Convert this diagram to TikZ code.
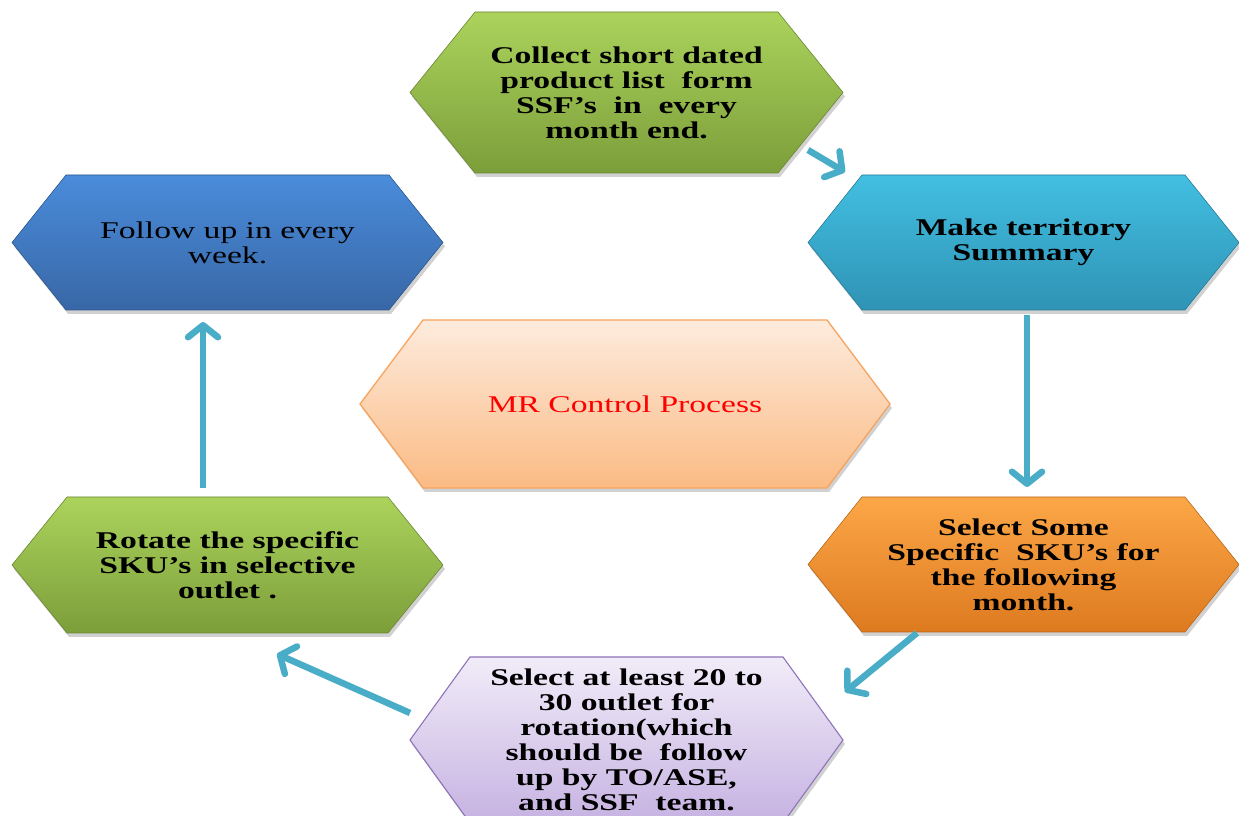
\documentclass[tikz,border=0pt]{standalone}
\usepackage{fontspec}
\usetikzlibrary{arrows.meta}
\newfontfamily\hexfont[FakeStretch=1.4]{Liberation Serif}
\definecolor{grtop}{HTML}{ABD35C}
\definecolor{grbot}{HTML}{7C9E3A}
\definecolor{cytop}{HTML}{42BFE1}
\definecolor{cybot}{HTML}{2F93B5}
\definecolor{bltop}{HTML}{4A8CDB}
\definecolor{blbot}{HTML}{3867A6}
\definecolor{pctop}{HTML}{FDEBDD}
\definecolor{pcbot}{HTML}{FBBB84}
\definecolor{pcedge}{HTML}{F5A35E}
\definecolor{ortop}{HTML}{FCA747}
\definecolor{orbot}{HTML}{DD7A1F}
\definecolor{pptop}{HTML}{F1ECF8}
\definecolor{ppbot}{HTML}{C6B2E2}
\definecolor{ppedge}{HTML}{8E74B8}
\definecolor{arrowc}{HTML}{4AADC8}
\tikzset{
  hexshadow/.style={fill=black, opacity=0.18},
  hextext/.style={align=center, inner sep=0pt, font=\hexfont\fontsize{24}{25}\selectfont},
  boldtext/.style={hextext, font=\hexfont\bfseries\fontsize{24}{25}\selectfont},
  greenhex/.style={top color=grtop, bottom color=grbot, draw=grbot!85!black, line width=0.6pt},
  cyanhex/.style={top color=cytop, bottom color=cybot, draw=cybot!85!black, line width=0.6pt},
  bluehex/.style={top color=bltop, bottom color=blbot, draw=blbot!85!black, line width=0.6pt},
  peachhex/.style={top color=pctop, bottom color=pcbot, draw=pcedge, line width=1.3pt},
  orangehex/.style={top color=ortop, bottom color=orbot, draw=orbot!85!black, line width=0.6pt},
  purplehex/.style={top color=pptop, bottom color=ppbot, draw=ppedge, line width=1.1pt},
  flowarrow/.style={draw=arrowc, line width=6.5pt, -{Straight Barb[length=12pt,width=30pt,round]}}
}
\def\hexpath#1#2#3{(-#1,0) -- (-#1+#3,#2) -- (#1-#3,#2) -- (#1,0) -- (#1-#3,-#2) -- (-#1+#3,-#2) -- cycle}
% #1 name, #2 cx, #3 cy, #4 half width, #5 half height, #6 inset, #7 shape style, #8 text style, #9 text
\newcommand\hexnode[9]{%
  \begin{scope}[shift={(#2,#3)}]
    \fill[hexshadow, shift={(2,-4)}] \hexpath{#4}{#5}{#6};
    \path[#7] \hexpath{#4}{#5}{#6};
    \node[#8] (#1) at (0,0) {#9};
  \end{scope}}
\begin{document}
\begin{tikzpicture}[x=1pt, y=1pt]
\useasboundingbox[fill=white] (0,0) rectangle (1239,816);

\hexnode{collect}{626.5}{723.5}{216.5}{80.5}{65}{greenhex}{boldtext}{Collect short dated\\ product list\ \ form\\ SSF’s\ \ in\ \ every\\ month end.}
\hexnode{territory}{1023.5}{573.5}{215.5}{67.5}{54}{cyanhex}{boldtext}{Make territory\\ Summary}
\hexnode{followup}{227.5}{573.5}{215.5}{67.5}{54}{bluehex}{hextext}{Follow up in every\\ week.}
\hexnode{mr}{625}{412}{265}{84}{63}{peachhex}{hextext, text=red}{MR Control Process}
\hexnode{selectsku}{1023.5}{251.5}{215.5}{67.5}{54}{orangehex}{boldtext}{Select Some\\ Specific\ \ SKU’s for\\ the following\\ month.}
\hexnode{rotate}{227.5}{251}{215.5}{68}{55}{greenhex}{boldtext}{Rotate the specific\\ SKU’s in selective\\ outlet .}
\hexnode{outlets}{626.5}{76}{216.5}{83}{60}{purplehex}{boldtext}{Select at least 20 to\\ 30 outlet for\\ rotation(which\\ should be\ \ follow\\ up by TO/ASE,\\ and SSF\ \ team.}

% connectors
\coordinate (a1s) at ([shift={(181.5,-57.5)}]collect.center);
\coordinate (a1e) at ([shift={(-178.5,70.5)}]territory.center);
\draw[flowarrow] (a1s) -- (a1e);
\draw[flowarrow] ([shift={(3.5,-72.5)}]territory.center) -- ([shift={(3.5,77.5)}]selectsku.center);
\coordinate (a3s) at ([shift={(-106.5,-68.5)}]selectsku.center);
\coordinate (a3e) at ([shift={(218.5,48)}]outlets.center);
\draw[flowarrow] (a3s) -- (a3e);
\coordinate (a4s) at ([shift={(-216.5,27)}]outlets.center);
\coordinate (a4e) at ([shift={(49.5,-89)}]rotate.center);
\draw[flowarrow] (a4s) -- (a4e);
\draw[flowarrow] ([shift={(-24.5,77)}]rotate.center) -- ([shift={(-24.5,-79.5)}]followup.center);
\end{tikzpicture}
\end{document}
